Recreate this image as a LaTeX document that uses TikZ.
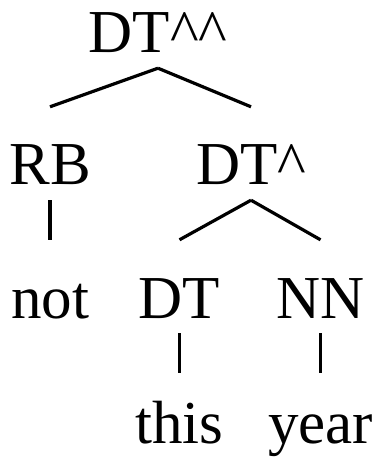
\documentclass[tikz,border=0pt]{standalone}
\usepackage{fontspec}
\setmainfont{Liberation Serif}
\usepackage{tikz}
\usetikzlibrary{positioning,calc}

\begin{document}
\begin{tikzpicture}[
x=1pt,y=-1pt,
mytag/.style={
  anchor=base,
  inner sep=0pt,
  text height=78pt,
  text depth=15pt,
  font=\fontsize{61}{61}\selectfont},
myword/.style={
  mytag,
  text height=70pt}
]
\useasboundingbox (0,0) rectangle (377,462);
\node[mytag] (Top) at (158,53) {DT\textasciicircum\textasciicircum};
\node[mytag] (RB) at (50,185) {RB};
\node[mytag] (DTc) at (251,185) {DT\textasciicircum};
\node[mytag] (Not) at (50,318) {not};
\node[mytag] (DT) at (179.5,318) {DT};
\node[mytag] (NN) at (320.5,318) {NN};
\node[myword] (This) at (179.5,443) {this};
\node[myword] (Year) at (320.5,443) {year};
% branches
\foreach \Up/\Down in {Top/RB,Top/DTc,RB/Not,DTc/DT,DTc/NN,DT/This,NN/Year}
  \draw[line width=3.2pt] (\Up.south) -- (\Down.north);
\end{tikzpicture}
\end{document}
